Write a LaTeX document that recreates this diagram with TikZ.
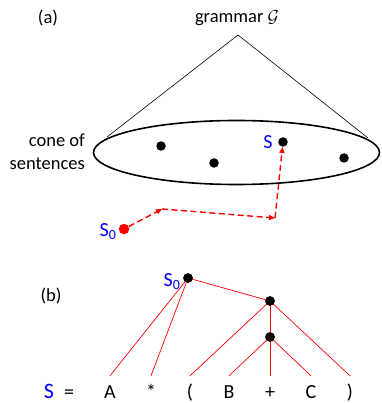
\documentclass[tikz,border=0pt]{standalone}
\usepackage{fontspec}
\setmainfont{Carlito}
\usetikzlibrary{arrows.meta,shapes.geometric}
\begin{document}
\begin{tikzpicture}[x=1pt,y=-1pt,
  txt/.style={font=\fontsize{18.5}{23}\selectfont, inner sep=0pt},
  big/.style={font=\fontsize{20}{24}\selectfont, inner sep=0pt},
  leaf/.style={font=\fontsize{20}{24}\selectfont, anchor=base, text height=12pt, inner xsep=0pt, inner ysep=10pt},
  dot/.style={circle, fill=black, minimum size=9.5pt, inner sep=0pt},
  reddot/.style={circle, fill=red, minimum size=10.5pt, inner sep=0pt},
  treeline/.style={red, line width=0.7pt},
  dasharrow/.style={red, line width=1.4pt, dash pattern=on 6pt off 3.5pt, -{Triangle[length=6pt,width=5pt]}},
]
\useasboundingbox (0,0) rectangle (381,403);
% (a)
\node[txt] (la) at (48,18) {(a)};
\node[txt] (gram) at (237,18) {grammar $\mathcal{G}$};
\coordinate (apex) at (238,35);
\coordinate (cl) at (107,137);
\coordinate (cr) at (368,138);
\node[draw, ellipse, line width=1.6pt, minimum width=286pt, minimum height=64pt, inner sep=0pt] (cone) at (236.5,152.5) {};
\draw[line width=0.6pt] (cl) -- (apex) -- (cr);
\node[txt, align=right, anchor=east] (conelab) at (85,152) {cone of\\sentences};
\node[dot] (d1) at (161,146) {};
\node[dot] (d2) at (214,163) {};
\node[dot] (s) at (283,142) {};
\node[dot] (d4) at (344,158) {};
\node[big, blue] (slab) at (268,142) {S};
\node[reddot] (s0) at (124,229) {};
\node[big, blue] (s0lab) at (108,232) {S\textsubscript{0}};
\coordinate (c1) at (162,209);
\coordinate (c2) at (275,218);
\draw[dasharrow] (s0) -- (c1);
\draw[dasharrow] (c1) -- (c2);
\draw[dasharrow] (c2) -- (s);
% (b)
\node[txt] (lb) at (51,296) {(b)};
\node[dot] (r) at (188,278) {};
\node[big, blue] (rlab) at (172,282) {S\textsubscript{0}};
\node[dot] (n2) at (270,301) {};
\node[dot] (n3) at (270,337) {};
\node[font=\fontsize{22}{26}\selectfont, inner sep=0pt, anchor=base, blue] (S) at (49,398) {S};
\node[leaf] (eq) at (69,398) {=};
\node[leaf] (A) at (110,398) {A};
\node[leaf] (st) at (151,398) {*};
\node[leaf] (lp) at (190,398) {(};
\node[leaf] (B) at (229,398) {B};
\node[leaf] (pl) at (270,398) {+};
\node[leaf] (C) at (311,398) {C};
\node[leaf] (rp) at (350,398) {)};
\draw[treeline] (r.center) -- (A.north);
\draw[treeline] (r.center) -- (st.north);
\draw[treeline] (r.center) -- (n2.center);
\draw[treeline] (n2.center) -- (lp.north);
\draw[treeline] (n2.center) -- (n3.center);
\draw[treeline] (n2.center) -- (rp.north);
\draw[treeline] (n3.center) -- (B.north);
\draw[treeline] (n3.center) -- (pl.north);
\draw[treeline] (n3.center) -- (C.north);
\node[dot] at (r) {};
\node[dot] at (n2) {};
\node[dot] at (n3) {};
\end{tikzpicture}
\end{document}
